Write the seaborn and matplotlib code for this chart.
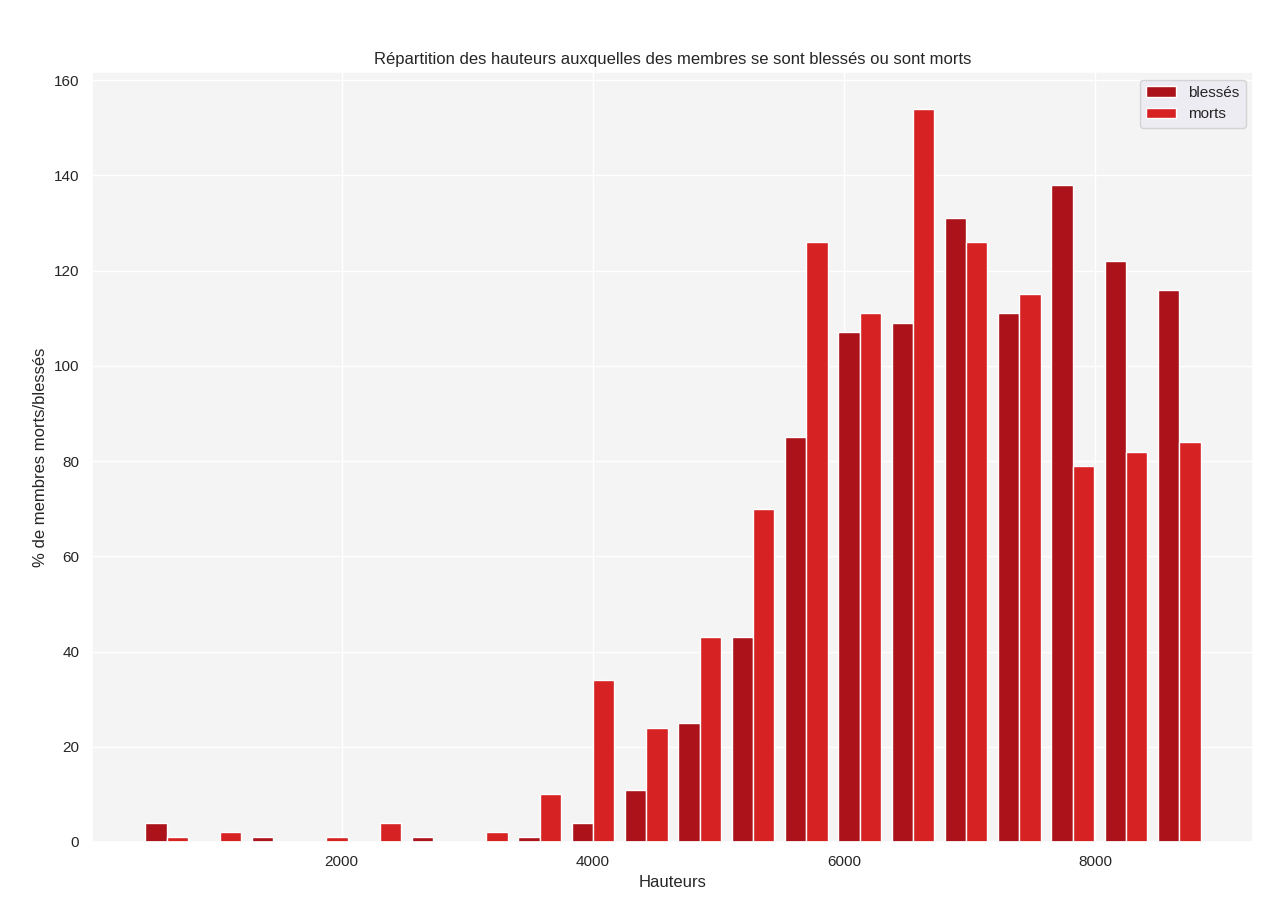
import numpy as np
import matplotlib.pyplot as plt
import seaborn as sns

# Altitudes (m) : bornes des classes et effectifs
hauteur_min = 395
hauteur_max = 8880
n_bins = 20

blesses = [4, 0, 1, 0, 0, 1, 0, 1, 4, 11, 25, 43, 85, 107, 109, 131, 111, 138, 122, 116]
morts = [1, 2, 0, 1, 4, 0, 2, 10, 34, 24, 43, 70, 126, 111, 154, 126, 115, 79, 82, 84]

labels = ['blessés', 'morts']
couleurs = ['#ab1219', '#d62222']

sns.set_theme(style='darkgrid')
plt.rcParams['font.family'] = ['Liberation Sans', 'DejaVu Sans']

bins = np.linspace(hauteur_min, hauteur_max, n_bins + 1)
centres = (bins[:-1] + bins[1:]) / 2

fig, ax = plt.subplots(figsize=(12.81, 8.98), dpi=100)
fig.subplots_adjust(left=0.0722, right=0.9785, top=0.9198, bottom=0.0624)

ax.hist([centres, centres], bins=bins, weights=[blesses, morts],
        color=couleurs, label=labels)

ax.legend(loc='upper right')
ax.set_facecolor('#f4f4f4')

ax.set_title('Répartition des hauteurs auxquelles des membres se sont blessés ou sont morts')
ax.set_xlabel('Hauteurs')
ax.set_ylabel('% de membres morts/blessés')

plt.savefig('out.png')
